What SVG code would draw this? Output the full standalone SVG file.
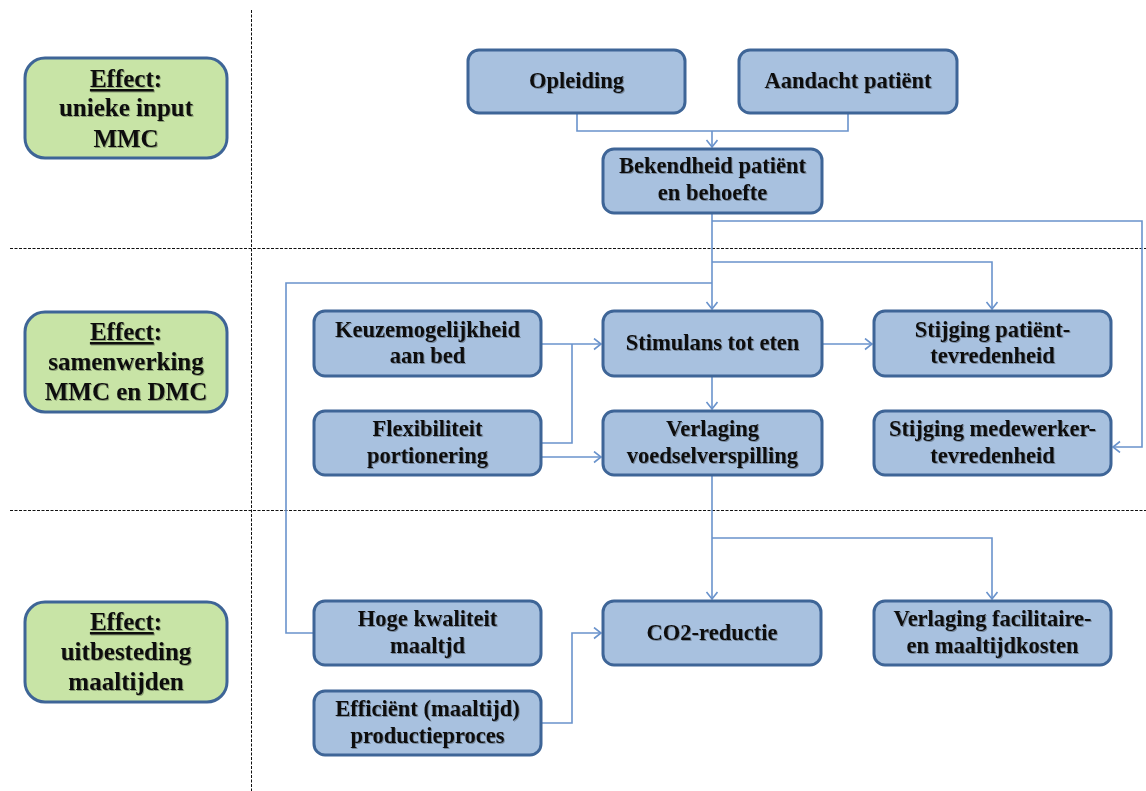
<svg xmlns="http://www.w3.org/2000/svg" width="1146" height="791" viewBox="0 0 1146 791">
<defs>
<marker id="arr" markerUnits="userSpaceOnUse" markerWidth="12" markerHeight="14" refX="8" refY="6" orient="auto">
<path d="M1,0.5 L8,6 L1,11.5" fill="none" stroke="#6A93CC" stroke-width="1.6"/>
</marker>
<filter id="sh" x="-10%" y="-10%" width="120%" height="130%">
<feDropShadow dx="1" dy="1" stdDeviation="0.6" flood-color="#000" flood-opacity="0.3"/>
</filter>
<style>
.dash{stroke:#111;stroke-width:1;stroke-dasharray:3 1.5;fill:none}
.node{fill:#A8C1DF;stroke:#3E6597;stroke-width:3}
.eff{fill:#C8E4A6;stroke:#3E6597;stroke-width:3}
.t{font-family:"Liberation Serif","Times New Roman",serif;font-weight:bold;font-size:22.5px;fill:#111;text-anchor:middle;filter:url(#sh)}
.te{font-family:"Liberation Serif","Times New Roman",serif;font-weight:bold;font-size:25px;fill:#111;text-anchor:middle;filter:url(#sh)}
.u{text-decoration:underline}
.c{fill:none;stroke:#6A93CC;stroke-width:1.6}
</style>
</defs>
<rect width="1146" height="791" fill="#fff"/>
<g id="grid">
<line class="dash" x1="251.5" y1="10" x2="251.5" y2="791"/>
<line class="dash" x1="10" y1="248.5" x2="1146" y2="248.5"/>
<line class="dash" x1="10" y1="510.5" x2="1146" y2="510.5"/>
</g>
<g id="connectors">
<path class="c" d="M577,113 V131 H848 V113"/>
<path class="c" d="M712,131 V147" marker-end="url(#arr)"/>
<path class="c" d="M712,213 V309" marker-end="url(#arr)"/>
<path class="c" d="M712,221 H1142 V447 H1113" marker-end="url(#arr)"/>
<path class="c" d="M712,262 H992 V309" marker-end="url(#arr)"/>
<path class="c" d="M314,633 H286 V283 H712"/>
<path class="c" d="M541,344 H601" marker-end="url(#arr)"/>
<path class="c" d="M541,443 H572 V344"/>
<path class="c" d="M541,457 H601" marker-end="url(#arr)"/>
<path class="c" d="M822,344 H872" marker-end="url(#arr)"/>
<path class="c" d="M712,376 V409" marker-end="url(#arr)"/>
<path class="c" d="M712,475 V599" marker-end="url(#arr)"/>
<path class="c" d="M712,538 H992 V599" marker-end="url(#arr)"/>
<path class="c" d="M541,723 H572 V633 H601" marker-end="url(#arr)"/>
</g>
<g id="effect1"><rect class="eff" x="25" y="58" width="202" height="100" rx="20"/>
<text class="te" x="126" y="87"><tspan class="u">Effect</tspan>:</text>
<text class="te" x="126" y="116">unieke input</text>
<text class="te" x="126" y="147">MMC</text></g>
<g id="effect2"><rect class="eff" x="25" y="312" width="202" height="100" rx="20"/>
<text class="te" x="126" y="340"><tspan class="u">Effect</tspan>:</text>
<text class="te" x="126" y="370">samenwerking</text>
<text class="te" x="126" y="400">MMC en DMC</text></g>
<g id="effect3"><rect class="eff" x="25" y="602" width="202" height="100" rx="20"/>
<text class="te" x="126" y="630"><tspan class="u">Effect</tspan>:</text>
<text class="te" x="126" y="660">uitbesteding</text>
<text class="te" x="126" y="690">maaltijden</text></g>
<g id="opleiding"><rect class="node" x="468" y="50" width="217" height="63" rx="11"/>
<text class="t" x="576.5" y="88">Opleiding</text></g>
<g id="aandacht"><rect class="node" x="739" y="50" width="218" height="63" rx="11"/>
<text class="t" x="848" y="88">Aandacht patiënt</text></g>
<g id="bekendheid"><rect class="node" x="603" y="149" width="219" height="64" rx="11"/>
<text class="t" x="712.5" y="173">Bekendheid patiënt</text>
<text class="t" x="712.5" y="200">en behoefte</text></g>
<g id="keuze"><rect class="node" x="314" y="311" width="227" height="65" rx="11"/>
<text class="t" x="427.5" y="337">Keuzemogelijkheid</text>
<text class="t" x="427.5" y="363">aan bed</text></g>
<g id="stimulans"><rect class="node" x="603" y="311" width="219" height="65" rx="11"/>
<text class="t" x="712.5" y="350">Stimulans tot eten</text></g>
<g id="stijging-patient"><rect class="node" x="874" y="311" width="237" height="65" rx="11"/>
<text class="t" x="992.5" y="337">Stijging patiënt-</text>
<text class="t" x="992.5" y="363">tevredenheid</text></g>
<g id="flex"><rect class="node" x="314" y="411" width="227" height="64" rx="11"/>
<text class="t" x="427.5" y="436">Flexibiliteit</text>
<text class="t" x="427.5" y="463">portionering</text></g>
<g id="verlaging-voedsel"><rect class="node" x="603" y="411" width="219" height="64" rx="11"/>
<text class="t" x="712.5" y="436">Verlaging</text>
<text class="t" x="712.5" y="463">voedselverspilling</text></g>
<g id="stijging-medewerker"><rect class="node" x="874" y="411" width="237" height="64" rx="11"/>
<text class="t" x="992.5" y="436">Stijging medewerker-</text>
<text class="t" x="992.5" y="463">tevredenheid</text></g>
<g id="hoge"><rect class="node" x="314" y="601" width="227" height="64" rx="11"/>
<text class="t" x="427.5" y="626">Hoge kwaliteit</text>
<text class="t" x="427.5" y="653">maaltjd</text></g>
<g id="co2"><rect class="node" x="603" y="601" width="218" height="64" rx="11"/>
<text class="t" x="712" y="640">CO2-reductie</text></g>
<g id="verlaging-kosten"><rect class="node" x="874" y="601" width="237" height="64" rx="11"/>
<text class="t" x="992.5" y="626">Verlaging facilitaire-</text>
<text class="t" x="992.5" y="653">en maaltijdkosten</text></g>
<g id="efficient"><rect class="node" x="314" y="691" width="227" height="64" rx="11"/>
<text class="t" x="427.5" y="716">Efficiënt (maaltijd)</text>
<text class="t" x="427.5" y="743">productieproces</text></g>
</svg>
